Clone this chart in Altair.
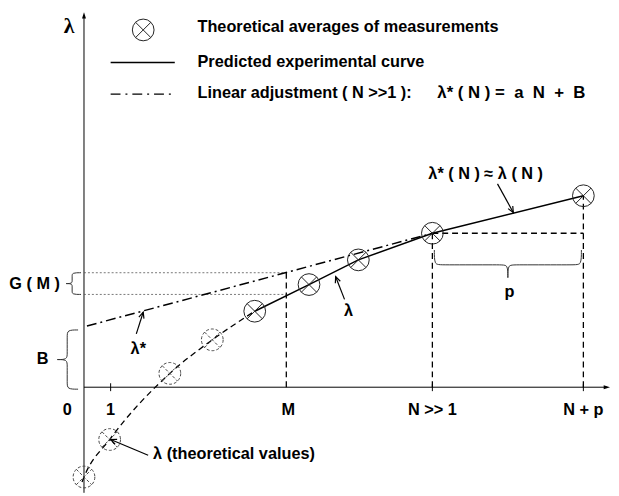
import math
import altair as alt
import pandas as pd

# ---- diagram values: N along the horizontal axis, lambda along the vertical axis,
# ---- origin where the two axes cross
avg_N = [173, 228, 278, 353, 506]            # theoretical averages of measurements (solid ⊗)
avg_L = [77, 104, 129, 156, 194]
theo_N = [0, 26, 87, 130]                     # theoretical values (dashed ⊗)
theo_L = [-91, -53, 14, 48]
curve_N = [-2, 0, 26, 87, 130, 173]           # dashed theoretical curve
curve_L = [-96, -91, -53, 14, 48, 77]
lin_N = [3, 353]                              # linear adjustment  λ* = aN + B
lin_L = [62, 156]
M_val, N1_val, Np_val = 205, 353, 506
G_top, G_bot = 116, 94
B_val = 58
tick_labels = ["0", "1", "M", "N >> 1", "N + p"]
tick_pos = [-17, 27, 207, 353, 506]

FONT = "Liberation Sans"
FS = 16.5
xs = alt.Scale(domain=[-77, 534], nice=False, zero=False)
ys = alt.Scale(domain=[-107, 381], nice=False, zero=False)


def XY(xf="x", yf="y"):
    return dict(x=alt.X(f"{xf}:Q", scale=xs, axis=None),
                y=alt.Y(f"{yf}:Q", scale=ys, axis=None))


def rule_layer(rows, **kw):
    df = pd.DataFrame(rows, columns=["x", "y", "x2", "y2"])
    return alt.Chart(df).mark_rule(**kw).encode(**XY(), x2="x2:Q", y2="y2:Q")


def text_layer(rows, **kw):
    df = pd.DataFrame(rows, columns=["x", "y", "t"])
    style = dict(font=FONT, fontWeight="bold", fontSize=FS, baseline="middle", color="black")
    style.update(kw)
    return alt.Chart(df).mark_text(**style).encode(**XY(), text="t:N")


layers = []

# axes
layers.append(rule_layer([(0, 0, 530, 0), (0, -107, 0, 377)], color="black", strokeWidth=1))
TRI = "M 0 0 L 0.5 1.6 L -0.5 1.6 Z"
ax_heads = pd.DataFrame({"x": [0, 533], "y": [380, 0], "a": [0, 90]})
layers.append(alt.Chart(ax_heads).mark_point(shape=TRI, size=64, filled=True, color="black", opacity=1)
              .encode(**XY(), angle=alt.Angle("a:Q", scale=None)))
# small ticks on the N axis
layers.append(rule_layer([(27, -4, 27, 4), (N1_val, -4, N1_val, 3), (Np_val, -4, Np_val, 3)],
                         color="black", strokeWidth=1))

# dashed guides
layers.append(rule_layer([(M_val, 0, M_val, G_top), (N1_val, 0, N1_val, avg_L[3]),
                          (Np_val, 0, Np_val, avg_L[4]), (N1_val, avg_L[3], Np_val, avg_L[3])],
                         color="black", strokeWidth=1.3, strokeDash=[6, 4]))
# dotted G(M) guides
layers.append(rule_layer([(0, G_top, M_val, G_top), (0, G_bot, M_val, G_bot)],
                         color="#555", strokeWidth=0.8, strokeDash=[2, 2]))

# curves
curve_df = pd.DataFrame({"x": curve_N, "y": curve_L})
layers.append(alt.Chart(curve_df).mark_line(interpolate="monotone", color="black", strokeWidth=1.3,
                                            strokeDash=[6, 4]).encode(**XY()))
avg_df = pd.DataFrame({"x": avg_N, "y": avg_L})
layers.append(alt.Chart(avg_df).mark_line(color="black", strokeWidth=1.5).encode(**XY()))
lin_df = pd.DataFrame({"x": lin_N, "y": lin_L})
layers.append(alt.Chart(lin_df).mark_line(color="black", strokeWidth=1.5, strokeDash=[10, 4, 2, 4])
              .encode(**XY()))

# ⊗ markers
XPATH = "M -0.7071 -0.7071 L 0.7071 0.7071 M -0.7071 0.7071 L 0.7071 -0.7071"
sym_solid = pd.DataFrame({"x": avg_N + [60], "y": avg_L + [362]})
sym_dash = pd.DataFrame({"x": theo_N, "y": theo_L})
for df, dash, col in [(sym_solid, None, "#222"), (sym_dash, [3, 2], "#444")]:
    kw = dict(size=484, filled=False, color=col, strokeWidth=1, opacity=1)
    if dash:
        kw["strokeDash"] = dash
    layers.append(alt.Chart(df).mark_point(shape="circle", **kw).encode(**XY()))
    layers.append(alt.Chart(df).mark_point(shape=XPATH, **kw).encode(**XY()))

# braces
def brace(bid, a0, a1, spine, end, tip, vertical):
    m = (a0 + a1) / 2.0
    s = 1 if a1 > a0 else -1
    k = min(6.0, abs(m - a0) * 0.3)
    halves = [([a0, a0, a0 + s * k, m - s * k, m, m], [end, spine, spine, spine, spine, tip]),
              ([m, m, m + s * k, a1 - s * k, a1, a1], [tip, spine, spine, spine, spine, end])]
    rows = []
    for h, (along, perp) in enumerate(halves):
        for i, (a, p) in enumerate(zip(along, perp)):
            rows.append({"bid": f"{bid}{h}", "i": i,
                         "x": p if vertical else a, "y": a if vertical else p})
    return rows

brace_rows = (brace("G", G_top, G_bot, -12, -3, -18, True)
              + brace("B", B_val, -2, -17, -6, -27, True)
              + brace("p", N1_val + 2, Np_val - 2, 124, 139, 111, False))
layers.append(alt.Chart(pd.DataFrame(brace_rows)).mark_line(interpolate="basis", color="#333",
                                                             strokeWidth=1)
              .encode(**XY(), detail="bid:N", order="i:Q"))

# annotation arrows (tail -> tip)
arrows = [(53, 54, 60, 76), (264, 89, 255, 112), (419, 206, 435, 177), (65, -69, 27, -53)]
layers.append(rule_layer(arrows, color="black", strokeWidth=1.2))
VHEAD = "M -0.45 1 L 0 0 L 0.45 1"
heads = pd.DataFrame({"x": [a[2] for a in arrows], "y": [a[3] for a in arrows],
                      "a": [math.degrees(math.atan2(a[2] - a[0], a[3] - a[1])) % 360 for a in arrows]})
layers.append(alt.Chart(heads).mark_point(shape=VHEAD, size=144, filled=False, color="black",
                                          strokeWidth=1.2, opacity=1)
              .encode(**XY(), angle=alt.Angle("a:Q", scale=None)))

# legend lines
leg_solid = pd.DataFrame({"x": [27, 92], "y": [329, 329]})
leg_dd = pd.DataFrame({"x": [27, 88], "y": [297, 297]})
layers.append(alt.Chart(leg_solid).mark_line(color="black", strokeWidth=1.5).encode(**XY()))
layers.append(alt.Chart(leg_dd).mark_line(color="black", strokeWidth=1.3,
                                          strokeDash=[10, 5, 2, 5]).encode(**XY()))

# texts
NB = "\u00a0"
formula = f"λ* ( N ) ={NB*2}a{NB*2}N{NB*2}+{NB*2}B"
layers.append(text_layer([(115, 365, "Theoretical averages of measurements"),
                          (115, 329, "Predicted experimental curve"),
                          (115, 298, "Linear adjustment ( N >>1 ):"),
                          (70, -68, "λ (theoretical values)")], align="left"))
layers.append(text_layer([(358, 298, formula)], align="left", fontSize=17))
layers.append(text_layer([(-15, 366, "λ")], fontSize=22, font="Liberation Serif", align="center"))
layers.append(text_layer([(x, -23, t) for x, t in zip(tick_pos, tick_labels)]
                         + [(-50, 105, "G ( M )"), (-42, 29, "B"), (55, 39, "λ*"),
                            (268, 77, "λ"), (407, 216, "λ* ( N ) ≈ λ ( N )"), (431, 96, "p")],
                         align="center"))

chart = alt.layer(*layers).properties(
    width=611, height=488, padding=0,
    autosize=alt.AutoSizeParams(type="none"),
    background="white",
).configure_view(stroke=None)

chart.save("out.html", embed_options={"renderer": "svg", "actions": False})
